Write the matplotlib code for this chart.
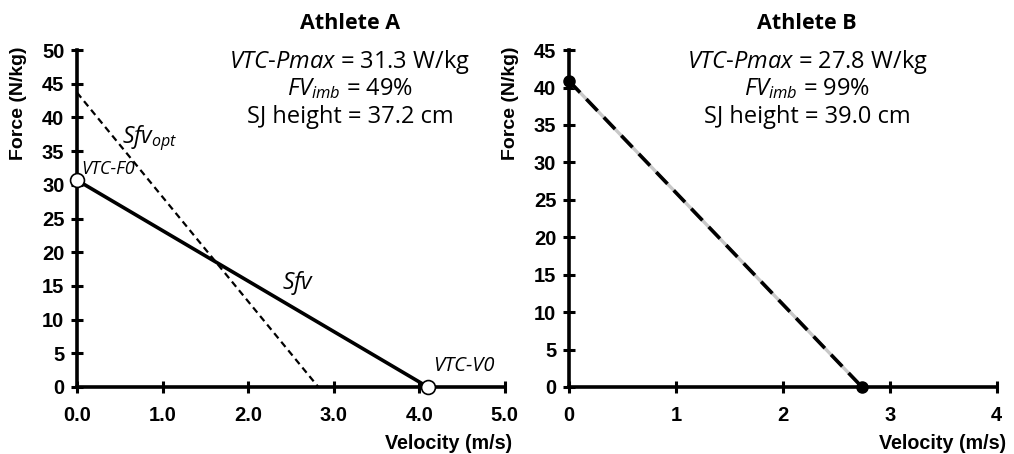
import matplotlib

matplotlib.use("Agg")
import matplotlib.pyplot as plt
from matplotlib.ticker import FormatStrFormatter, MultipleLocator

plt.rcParams["font.family"] = ["Liberation Sans", "DejaVu Sans"]
plt.rcParams["mathtext.fontset"] = "custom"
plt.rcParams["mathtext.rm"] = "Open Sans"
plt.rcParams["mathtext.it"] = "Open Sans:italic"

# Athlete A: actual and optimal force-velocity profiles
a_velocity = [0.0, 4.1]
a_force = [30.7, 0.0]
a_opt_velocity = [0.0, 2.82]
a_opt_force = [43.7, 0.0]
a_stats = ["31.3 W/kg", "49%", "37.2 cm"]

# Athlete B: profile (actual ~ optimal)
b_velocity = [0.0, 2.74]
b_force = [40.9, 0.0]
b_stats = ["27.8 W/kg", "99%", "39.0 cm"]

TEXT_FONT = "Open Sans"

fig = plt.figure(figsize=(10.14, 4.54), dpi=100)
ax_a = fig.add_axes([0.0759, 0.1476, 0.422, 0.742])
ax_b = fig.add_axes([0.561, 0.1476, 0.422, 0.742])


def style_axis(ax, xmax, ymax, xfmt, xlab_x):
    for side in ["top", "right"]:
        ax.spines[side].set_visible(False)
    for side in ["left", "bottom"]:
        ax.spines[side].set_linewidth(2.6)
    ax.set_xlim(0, xmax)
    ax.set_ylim(0, ymax)
    ax.xaxis.set_major_locator(MultipleLocator(1))
    ax.yaxis.set_major_locator(MultipleLocator(5))
    ax.xaxis.set_major_formatter(FormatStrFormatter(xfmt))
    ax.tick_params(direction="inout", length=8, width=2.2, labelsize=14.5)
    ax.tick_params(axis="x", pad=10)
    ax.tick_params(axis="y", pad=5)
    for lab in ax.get_xticklabels() + ax.get_yticklabels():
        lab.set_fontweight("bold")
    ax.set_ylabel("Force (N/kg)", fontsize=14, fontweight="bold", va="center", ha="center")
    ax.yaxis.set_label_coords(-0.137, 0.843)
    ax.set_xlabel("Velocity (m/s)", fontsize=14.2, fontweight="bold", ha="right", va="center")
    ax.xaxis.set_label_coords(xlab_x, -0.167)


def header(x, name, stats):
    kw = dict(ha="center", va="center", family=TEXT_FONT, fontsize=17)
    fig.text(x, 0.949, name, fontweight="bold", **dict(kw, fontsize=15.5))
    fig.text(x, 0.863, r"$\mathit{VTC}$-$\mathit{Pmax}$ = " + stats[0], **kw)
    fig.text(x, 0.805, r"$\mathit{FV}_{\mathit{imb}}$ = " + stats[1], **kw)
    fig.text(x, 0.742, "SJ height = " + stats[2], **kw)


# Athlete A
style_axis(ax_a, 5, 50, "%.1f", 1.016)
ax_a.plot(a_opt_velocity, a_opt_force, color="black", lw=1.6, ls=(0, (3, 2)), zorder=2)
ax_a.plot(a_velocity, a_force, color="black", lw=2.6, zorder=3)
ax_a.plot(a_velocity, a_force, ls="none", marker="o", ms=10, mfc="white", mec="black",
          mew=1.2, zorder=4, clip_on=False)
ax_a.text(0.05, 32.3, "VTC-F0", style="italic", family=TEXT_FONT, fontsize=13, va="center")
ax_a.text(4.16, 3.1, "VTC-V0", style="italic", family=TEXT_FONT, fontsize=14.5, va="center")
ax_a.text(0.53, 37.0, r"$\mathit{Sfv}_{\mathit{opt}}$", family=TEXT_FONT, fontsize=16.5, va="center")
ax_a.text(2.4, 15.5, r"$\mathit{Sfv}$", family=TEXT_FONT, fontsize=16.5, va="center")
header(0.345, "Athlete A", a_stats)

# Athlete B
style_axis(ax_b, 4, 45, "%d", 1.023)
ax_b.plot(b_velocity, b_force, color="#c8c8c8", lw=2.4, zorder=2)
ax_b.plot(b_velocity, b_force, color="black", lw=2.6, ls=(0, (4.5, 2.5)), zorder=3)
ax_b.plot(b_velocity, b_force, ls="none", marker="o", ms=8, color="black", zorder=4, clip_on=False)
header(0.796, "Athlete B", b_stats)

fig.savefig("out.png", dpi=100)
